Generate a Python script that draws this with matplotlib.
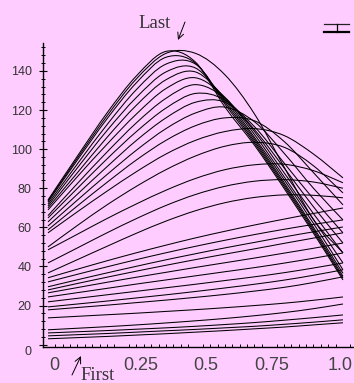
import numpy as np
import matplotlib
matplotlib.use('Agg')
import matplotlib.pyplot as plt
from matplotlib.path import Path
from matplotlib.patches import PathPatch
from matplotlib.lines import Line2D
import matplotlib.transforms as mtransforms

# ---------------- data ----------------
x_positions = [0.0, 0.1, 0.2, 0.3, 0.4, 0.5, 0.6, 0.7, 0.8, 0.9, 1.0]

# first (bottom) curves
curve_01 = [3.0, 3.6, 4.2, 4.9, 5.6, 6.4, 7.2, 8.1, 9.0, 10.1, 11.2]
curve_02 = [4.5, 5.1, 5.7, 6.4, 7.1, 7.8, 8.6, 9.4, 10.4, 11.5, 12.7]
curve_03 = [6.0, 6.6, 7.2, 7.9, 8.6, 9.4, 10.3, 11.3, 12.5, 13.8, 15.2]
curve_04 = [7.6, 8.4, 9.2, 10.1, 11.1, 12.2, 13.4, 14.8, 16.4, 18.4, 20.8]
curve_05 = [13.7, 14.5, 15.3, 16.1, 17.0, 17.9, 18.9, 20.0, 21.2, 22.7, 24.4]
curve_06 = [17.8, 19.0, 20.2, 21.5, 22.8, 24.2, 25.7, 27.4, 29.3, 31.8, 34.7]
curve_07 = [19.3, 20.8, 22.3, 23.9, 25.5, 27.2, 29.0, 30.9, 33.0, 35.5, 38.3]
curve_08 = [21.9, 23.7, 25.5, 27.3, 29.1, 30.9, 32.8, 34.7, 36.8, 39.2, 41.8]
curve_09 = [24.4, 26.6, 28.8, 31.0, 33.1, 35.2, 37.3, 39.4, 41.7, 44.2, 46.9]
curve_10 = [26.5, 29.2, 31.9, 34.5, 37.0, 39.5, 41.9, 44.3, 46.8, 49.3, 52.0]
curve_11 = [28.0, 31.3, 34.5, 37.6, 40.6, 43.5, 46.3, 49.0, 51.8, 54.5, 57.2]
curve_12 = [29.6, 33.2, 36.7, 40.1, 43.4, 46.5, 49.5, 52.3, 55.1, 57.7, 60.2]
curve_13 = [32.1, 36.0, 39.8, 43.5, 47.0, 50.3, 53.4, 56.3, 59.0, 61.5, 63.8]
curve_14 = [34.2, 38.6, 42.9, 47.0, 50.9, 54.6, 58.0, 61.2, 64.2, 67.1, 69.9]
# middle curves
curve_15 = [36.7, 43.5, 50.3, 57.0, 63.2, 68.5, 72.6, 75.3, 76.6, 76.4, 75.1]
curve_16 = [41.8, 49.5, 57.2, 64.5, 71.2, 76.8, 81.0, 83.6, 84.4, 83.2, 80.0]
curve_17 = [48.5, 56.5, 64.5, 72.0, 79.0, 85.0, 89.5, 92.0, 92.3, 89.0, 82.8]
curve_18 = [50.0, 61.0, 71.5, 81.0, 89.5, 96.5, 101.5, 103.5, 101.0, 91.5, 77.6]
curve_19 = [57.2, 68.0, 78.5, 88.5, 97.5, 104.5, 109.0, 110.5, 107.0, 97.5, 85.3]
curve_20 = [58.7, 71.0, 83.0, 94.5, 104.5, 112.0, 116.0, 114.5, 104.0, 88.0, 71.5]
curve_21 = [60.7, 74.0, 87.0, 99.5, 110.5, 118.5, 121.5, 114.0, 98.0, 80.0, 63.8]
# last (peaked) curves
curve_22 = [62.8, 77.0, 91.0, 104.5, 116.0, 124.0, 124.0, 111.5, 93.0, 74.5, 57.2]
curve_23 = [64.8, 80.0, 95.0, 109.0, 121.0, 128.5, 125.0, 110.0, 90.5, 70.5, 52.0]
curve_24 = [66.0, 82.5, 98.5, 113.5, 126.0, 133.0, 126.0, 109.0, 88.0, 67.0, 46.9]
curve_25 = [68.9, 86.0, 102.5, 118.0, 131.0, 136.5, 126.5, 107.5, 86.0, 64.0, 41.8]
curve_26 = [70.0, 88.0, 106.0, 122.5, 135.5, 139.5, 126.0, 106.0, 84.5, 62.0, 38.3]
curve_27 = [71.0, 90.5, 109.5, 126.5, 139.5, 141.5, 125.0, 105.0, 83.0, 60.0, 36.5]
curve_28 = [72.0, 92.5, 112.5, 130.5, 143.5, 143.5, 124.0, 104.0, 82.0, 59.0, 35.0]
curve_29 = [73.0, 94.5, 115.5, 134.0, 147.0, 144.0, 123.0, 103.0, 81.0, 58.0, 34.0]
curve_30 = [74.0, 96.5, 118.5, 137.5, 150.0, 144.5, 121.5, 102.0, 80.0, 57.0, 33.1]
curve_31 = [73.5, 95.5, 117.0, 136.0, 149.0, 149.0, 138.0, 118.0, 91.0, 64.0, 47.0]

curves = [curve_01, curve_02, curve_03, curve_04, curve_05, curve_06, curve_07,
          curve_08, curve_09, curve_10, curve_11, curve_12, curve_13, curve_14,
          curve_15, curve_16, curve_17, curve_18, curve_19, curve_20, curve_21,
          curve_22, curve_23, curve_24, curve_25, curve_26, curve_27, curve_28,
          curve_29, curve_30, curve_31]

x_ticks = [0.0, 0.25, 0.5, 0.75, 1.0]
x_tick_labels = ['0', '0.25', '0.5', '0.75', '1.0']
y_ticks = [0, 20, 40, 60, 80, 100, 120, 140]
y_tick_labels = ['0', '20', '40', '60', '80', '100', '120', '140']

# ---------------- styling ----------------
PINK = '#FFCCFF'
W, H = 354, 383


def smooth_path(xs, ys):
    pts = np.column_stack([xs, ys]).astype(float)
    n = len(pts)
    verts = [pts[0]]
    codes = [Path.MOVETO]
    for i in range(n - 1):
        p0 = pts[max(i - 1, 0)]
        p1 = pts[i]
        p2 = pts[i + 1]
        p3 = pts[min(i + 2, n - 1)]
        c1 = p1 + (p2 - p0) / 6.0
        c2 = p2 - (p3 - p1) / 6.0
        verts += [c1, c2, p2]
        codes += [Path.CURVE4] * 3
    return Path(verts, codes)


fig = plt.figure(figsize=(W / 100, H / 100), dpi=100, facecolor=PINK)
ax = fig.add_axes([42.5 / W, (H - 347) / H, (353 - 42.5) / W, (347 - 43) / H])
ax.set_facecolor(PINK)

for ys in curves:
    patch = PathPatch(smooth_path(x_positions, ys), facecolor='none',
                      edgecolor='black', lw=0.75, transform=ax.transData)
    ax.add_patch(patch)

ax.set_xlim(-0.0186, 1.034)
ax.set_ylim(-1.2, 154.3)

for s in ['top', 'right']:
    ax.spines[s].set_visible(False)
for s in ['left', 'bottom']:
    ax.spines[s].set_linewidth(1.0)
    ax.spines[s].set_color('black')

# y ticks
ax.set_yticks(y_ticks)
ax.set_yticklabels(y_tick_labels)
ax.set_yticks(np.arange(0, 153, 4), minor=True)
ax.tick_params(axis='y', which='major', direction='inout', length=5.5, width=0.8,
               pad=5.0, labelsize=9, labelcolor='#333333', color='black')
ax.tick_params(axis='y', which='minor', direction='inout', length=3.5, width=0.7,
               color='black')

# x ticks
ax.set_xticks(x_ticks)
ax.set_xticklabels(x_tick_labels)
ax.set_xticks(np.arange(0.0, 1.03, 0.025), minor=True)
ax.tick_params(axis='x', which='major', direction='in', length=0, pad=7,
               labelsize=13, labelcolor='#444444')
ax.tick_params(axis='x', which='minor', direction='in', length=2.0, width=0.7,
               color='black')

for lab in ax.get_xticklabels() + ax.get_yticklabels():
    lab.set_family(['Liberation Sans', 'DejaVu Sans'])

x_offsets_px = [6, 19, 10, 2, -3]
for lab, dx in zip(ax.get_xticklabels(), x_offsets_px):
    lab.set_transform(lab.get_transform() +
                      mtransforms.ScaledTranslation(dx / 100, 0, fig.dpi_scale_trans))
ylabs = ax.get_yticklabels()
ylabs[0].set_transform(ylabs[0].get_transform() +
                       mtransforms.ScaledTranslation(0, -6 / 100, fig.dpi_scale_trans))

# annotations
serif = ['Liberation Serif', 'DejaVu Serif']
fig.text(138 / W, (H - 28.5) / H, 'Last', family=serif, fontsize=13.5,
         ha='left', va='baseline', color='#333333')
ax.annotate('', xy=(178, H - 40), xytext=(185, H - 22),
            xycoords='figure pixels', textcoords='figure pixels',
            arrowprops=dict(arrowstyle='->,head_length=0.45,head_width=0.22',
                            lw=0.7, color='black', shrinkA=0, shrinkB=0))
fig.text(80 / W, (H - 380) / H, 'First', family=serif, fontsize=13.5,
         ha='left', va='baseline', color='#333333')
ax.annotate('', xy=(81, H - 356), xytext=(72, H - 375),
            xycoords='figure pixels', textcoords='figure pixels',
            arrowprops=dict(arrowstyle='->,head_length=0.45,head_width=0.22',
                            lw=0.7, color='black', shrinkA=0, shrinkB=0))

# error-bar-like glyph at top right
fig.add_artist(Line2D([324 / W, 349 / W], [(H - 24.3) / H] * 2, color='#222222', lw=0.9))
fig.add_artist(Line2D([324 / W, 349 / W], [(H - 32.3) / H] * 2, color='black', lw=1.6))
fig.add_artist(Line2D([336.5 / W, 336.5 / W], [(H - 24.3) / H, (H - 32.3) / H],
                      color='black', lw=0.9))

fig.savefig('out.png', dpi=100, facecolor=PINK)
